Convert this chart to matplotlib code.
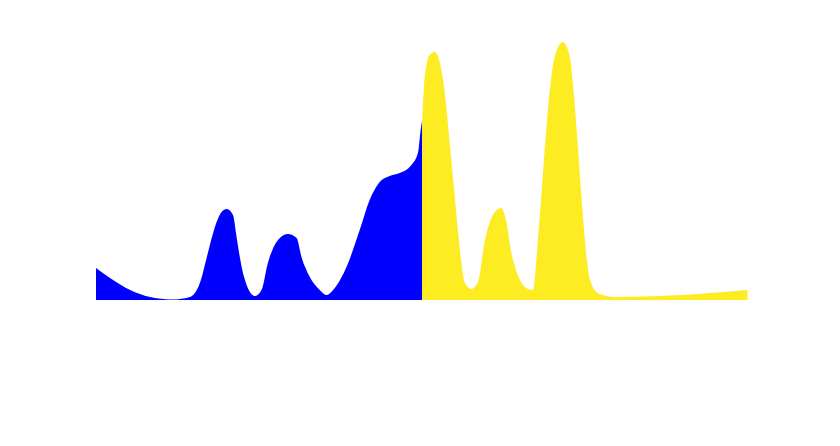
import matplotlib
matplotlib.use("Agg")
import matplotlib.pyplot as plt
import numpy as np
from matplotlib.path import Path
from matplotlib.patches import PathPatch

# Distribution of lift (%)
neg_x = [-20.0, -19.14, -17.91, -16.69, -15.28, -14.24, -13.63, -13.14, -12.71, -12.30,
         -11.99, -11.60, -11.38, -11.07, -10.69, -10.26, -9.85, -9.46, -8.93, -8.24,
         -7.70, -7.40, -6.89, -6.28, -5.87, -5.36, -4.64, -3.83, -3.22, -2.60,
         -1.99, -1.38, -0.77, -0.26, -0.09, 0.0]
neg_y = [0.32, 0.22, 0.10, 0.03, 0.005, 0.03, 0.17, 0.47, 0.73, 0.88,
         0.91, 0.85, 0.63, 0.33, 0.12, 0.04, 0.10, 0.37, 0.58, 0.66,
         0.62, 0.43, 0.23, 0.10, 0.05, 0.12, 0.33, 0.70, 1.00, 1.18,
         1.24, 1.27, 1.33, 1.47, 1.70, 1.80]

pos_x = [0.0, 0.15, 0.46, 0.77, 1.07, 1.38, 1.68, 1.99, 2.30, 2.60,
         3.01, 3.42, 3.83, 4.34, 4.85, 5.16, 5.46, 5.87, 6.38, 6.79,
         7.09, 7.40, 7.70, 8.11, 8.62, 9.03, 9.34, 9.64, 9.95, 10.26,
         10.77, 11.79, 15.87, 19.95]
pos_y = [1.80, 2.22, 2.45, 2.48, 2.38, 2.08, 1.58, 1.05, 0.52, 0.18,
         0.11, 0.18, 0.58, 0.85, 0.92, 0.78, 0.48, 0.25, 0.12, 0.10,
         0.58, 1.25, 1.88, 2.42, 2.58, 2.45, 1.98, 1.32, 0.65, 0.22,
         0.07, 0.03, 0.05, 0.10]

tick_vals = [-20, -10, 0, 10, 20]
tick_labels = ["-20%", "-10%", "0", "10%", "20%"]
caption = "+0.18% TOTAL RPV / LIFT, ALL DEVICES"


def monotone_area(xs, ys):
    """Area path drawn with monotone-x cubic segments through the given points."""
    x = np.asarray(xs, float)
    y = np.asarray(ys, float)
    h = np.diff(x)
    s = np.diff(y) / h
    n = len(x)
    t = np.zeros(n)
    for i in range(1, n - 1):
        s0, s1, h0, h1 = s[i - 1], s[i], h[i - 1], h[i]
        p = (s0 * h1 + s1 * h0) / (h0 + h1)
        t[i] = (np.sign(s0) + np.sign(s1)) * min(abs(s0), abs(s1), 0.5 * abs(p))
    t[0] = (3 * s[0] - t[1]) / 2
    t[-1] = (3 * s[-1] - t[-2]) / 2
    verts = [(x[0], 0.0), (x[0], y[0])]
    codes = [Path.MOVETO, Path.LINETO]
    for i in range(n - 1):
        d = h[i] / 3
        verts += [(x[i] + d, y[i] + t[i] * d),
                  (x[i + 1] - d, y[i + 1] - t[i + 1] * d),
                  (x[i + 1], y[i + 1])]
        codes += [Path.CURVE4] * 3
    verts += [(x[-1], 0.0), (x[0], 0.0)]
    codes += [Path.LINETO, Path.CLOSEPOLY]
    return Path(verts, codes)


fig = plt.figure(figsize=(8.4, 4.46), dpi=100, facecolor="white")
ax = fig.add_axes([96 / 840, 146 / 446, (748.3 - 96) / 840, 280 / 446])
ax.set_facecolor("white")

ax.add_patch(PathPatch(monotone_area(neg_x, neg_y), facecolor="#0000ff", edgecolor="none"))
ax.add_patch(PathPatch(monotone_area(pos_x, pos_y), facecolor="#fcec21", edgecolor="none"))

ax.set_xlim(-20, 20)
ax.set_ylim(0, 2.8)
for s in ["top", "right", "left"]:
    ax.spines[s].set_visible(False)
ax.spines["bottom"].set_color("white")
ax.spines["bottom"].set_position(("outward", 5))
ax.set_yticks([])
ax.set_xticks(tick_vals)
ax.set_xticklabels(tick_labels, fontfamily="Lato", fontsize=13, color="white")
ax.tick_params(axis="x", colors="white", length=6, pad=8)

fig.text(66 / 840, 1 - 395 / 446, caption, fontfamily="Lato", fontsize=14,
         color="white", va="center", ha="left")

fig.savefig("out.png", dpi=100, facecolor="white")
